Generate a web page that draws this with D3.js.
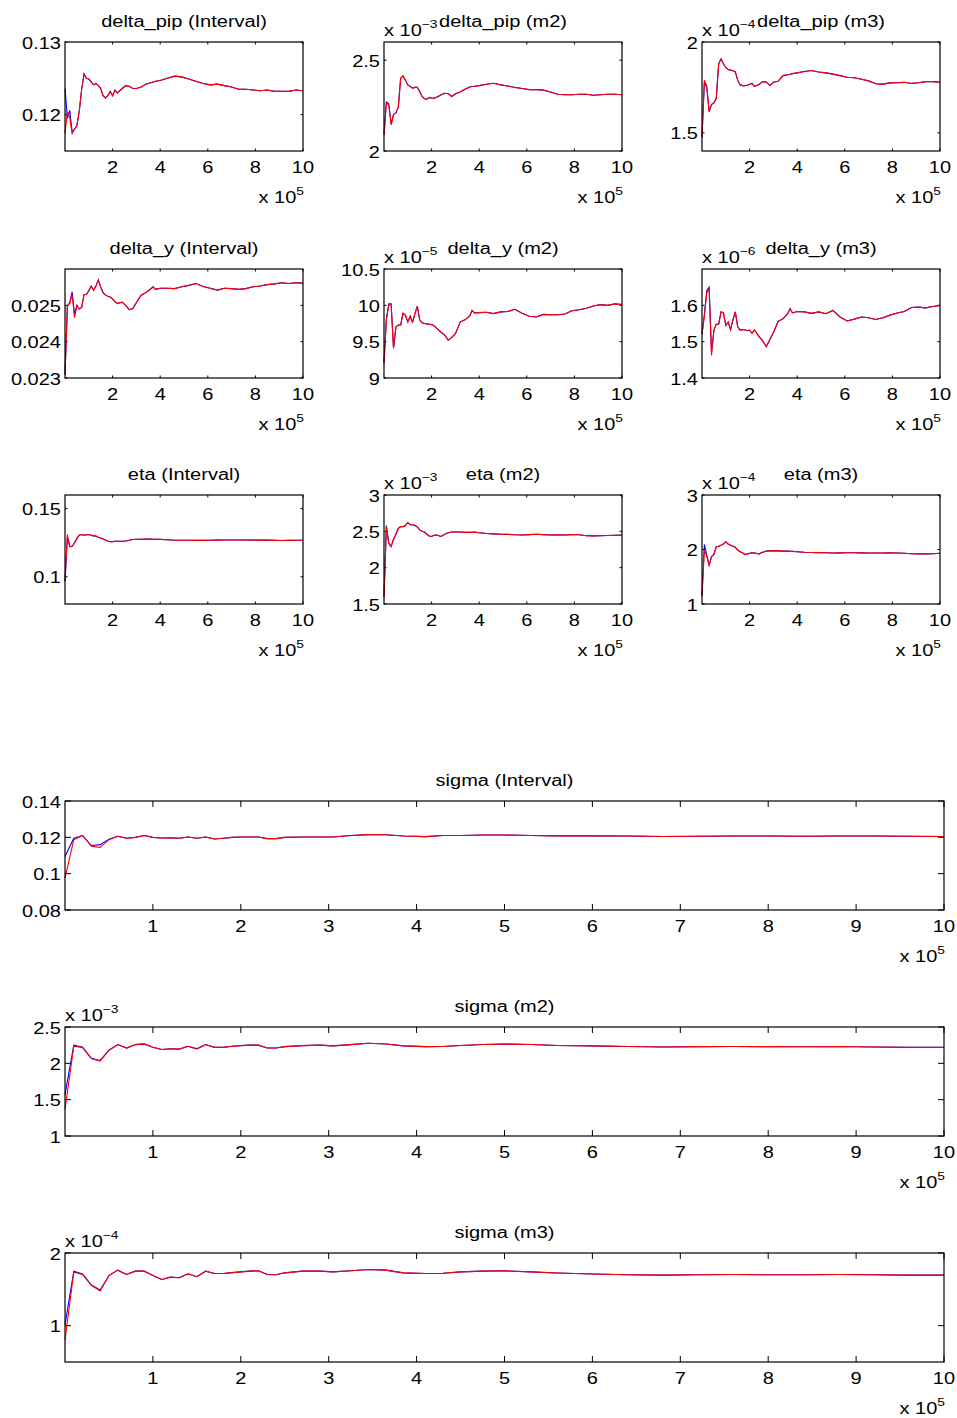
<!DOCTYPE html>
<html><head><meta charset="utf-8">
<script src="https://cdn.jsdelivr.net/npm/d3@7"></script>
<style>
body{margin:0;background:#fff}
svg{display:block}
text{font-family:"Liberation Sans",Arial,Helvetica,sans-serif;fill:#000}
</style></head>
<body><svg id="chart" width="957" height="1418"></svg>
<script>
// ---------------- DATA ----------------
// x positions (units of 10^5)
const smallX = [0,0.1,0.2,0.3,0.4,0.5,0.6,0.7,0.8,0.9,1.0,1.1,1.2,1.3,1.4,1.5,1.6,1.7,1.8,1.9,2.0,2.1,2.2,2.4,2.55,2.7,2.85,3.0,3.2,3.4,3.6,3.7,3.8,4.0,4.3,4.6,4.9,5.2,5.5,5.8,6.1,6.4,6.7,7.0,7.3,7.6,7.9,8.2,8.5,8.8,9.1,9.4,9.7,10.0];
const wideX = [0,0.1,0.2,0.3,0.4,0.5,0.6,0.7,0.8,0.9,1.0,1.1,1.2,1.3,1.4,1.5,1.6,1.7,1.8,1.9,2.0,2.1,2.2,2.3,2.4,2.5,2.7,2.9,3.05,3.25,3.45,3.65,3.85,4.1,4.3,4.5,4.75,5.0,5.3,5.6,6.0,6.4,6.8,7.2,7.6,8.0,8.4,8.8,9.2,9.6,10.0];

const smallXTicks = [2,4,6,8,10];
const wideXTicks = [1,2,3,4,5,6,7,8,9,10];

// delta_pip (Interval)
const dpipIntRed = [0.1174,0.1204,0.1196,0.1174,0.1180,0.1185,0.1205,0.1235,0.1256,0.1250,0.1249,0.1245,0.1241,0.1243,0.1240,0.1236,0.1226,0.1223,0.1226,0.1232,0.1226,0.1234,0.1230,0.1236,0.1240,0.1239,0.1236,0.1236,0.1238,0.1242,0.1244,0.1245,0.1246,0.1247,0.1250,0.1253,0.1252,0.1249,0.1246,0.1243,0.1241,0.1242,0.1240,0.1238,0.1235,0.1235,0.1234,0.1233,0.1234,0.1232,0.1232,0.1232,0.1234,0.1233];
const dpipIntBlueHead = [0.1236,0.1195,0.1206,0.1176];
const dpipIntTicks = [0.12,0.13];

// delta_pip (m2) x 10^-3
const dpipM2Red = [2.088,2.263,2.254,2.143,2.20,2.21,2.24,2.40,2.413,2.39,2.364,2.355,2.346,2.35,2.35,2.327,2.30,2.288,2.285,2.295,2.29,2.29,2.295,2.31,2.318,2.315,2.30,2.315,2.325,2.34,2.352,2.355,2.356,2.36,2.367,2.373,2.364,2.358,2.35,2.344,2.338,2.338,2.335,2.325,2.312,2.31,2.31,2.312,2.312,2.307,2.31,2.312,2.312,2.31];
const dpipM2BlueHead = [2.09,2.27,2.26,2.15];
const dpipM2Ticks = [2,2.5];

// delta_pip (m3) x 10^-4
const dpipM3Red = [1.473,1.79,1.76,1.614,1.656,1.665,1.69,1.88,1.907,1.88,1.86,1.848,1.845,1.842,1.835,1.79,1.765,1.76,1.76,1.762,1.768,1.772,1.756,1.766,1.782,1.78,1.76,1.778,1.784,1.815,1.82,1.822,1.826,1.83,1.838,1.843,1.835,1.83,1.823,1.815,1.806,1.803,1.795,1.786,1.77,1.768,1.775,1.776,1.778,1.772,1.776,1.782,1.782,1.778];
const dpipM3BlueHead = [1.48,1.78,1.75,1.62];
const dpipM3Ticks = [1.5,2];

// delta_y (Interval)
const dyIntRed = [0.02309,0.0250,0.02505,0.02530,0.02466,0.02500,0.02490,0.02494,0.02530,0.02530,0.02540,0.02553,0.02542,0.02553,0.02570,0.02550,0.02535,0.02528,0.02525,0.02523,0.02518,0.02510,0.02505,0.02509,0.02500,0.02488,0.02491,0.02508,0.02528,0.02535,0.02545,0.02551,0.02544,0.02547,0.02547,0.02546,0.02551,0.02555,0.02560,0.02552,0.02547,0.02542,0.02547,0.02546,0.02544,0.02546,0.02551,0.02553,0.02557,0.02559,0.02562,0.02560,0.02562,0.02561];
const dyIntBlueHead = [0.02309,0.02497,0.02508,0.02537,0.02475];
const dyIntTicks = [0.023,0.024,0.025];

// delta_y (m2) x 10^-5
const dyM2Red = [9.205,9.80,10.0,10.01,9.41,9.70,9.73,9.73,9.89,9.864,9.77,9.85,9.77,9.886,9.99,9.80,9.76,9.75,9.745,9.74,9.735,9.72,9.69,9.63,9.59,9.52,9.56,9.61,9.77,9.80,9.85,9.93,9.895,9.90,9.905,9.886,9.91,9.915,9.945,9.89,9.85,9.84,9.875,9.87,9.87,9.88,9.925,9.94,9.96,9.99,10.01,10.0,10.02,10.01];
const dyM2BlueHead = [9.21,9.82,10.02,10.02];
const dyM2Ticks = [9,9.5,10,10.5];

// delta_y (m3) x 10^-6
const dyM3Red = [1.522,1.57,1.635,1.645,1.462,1.532,1.548,1.548,1.582,1.580,1.545,1.554,1.533,1.56,1.582,1.541,1.532,1.533,1.533,1.530,1.532,1.523,1.532,1.514,1.502,1.486,1.505,1.525,1.556,1.563,1.577,1.591,1.579,1.583,1.582,1.578,1.582,1.577,1.586,1.568,1.557,1.562,1.568,1.566,1.561,1.566,1.573,1.579,1.583,1.594,1.595,1.593,1.597,1.600];
const dyM3BlueHead = [1.52,1.575,1.64,1.65,1.47];
const dyM3Ticks = [1.4,1.5,1.6];

// eta (Interval)
const etaIntRed = [0.0966,0.131,0.122,0.1222,0.125,0.128,0.1305,0.131,0.1305,0.1308,0.131,0.1305,0.130,0.1298,0.129,0.1285,0.1277,0.127,0.1262,0.1257,0.1258,0.126,0.126,0.126,0.1262,0.1268,0.1273,0.1274,0.1275,0.1277,0.1276,0.1275,0.1275,0.1274,0.1272,0.1268,0.1268,0.1268,0.1267,0.1267,0.1268,0.1269,0.127,0.127,0.127,0.127,0.1269,0.127,0.1269,0.1267,0.1266,0.1267,0.1268,0.1268];
const etaIntBlueHead = [0.0966,0.129,0.1225];
const etaIntTicks = [0.1,0.15];

// eta (m2) x 10^-3
const etaM2Red = [1.6,2.565,2.33,2.29,2.39,2.46,2.54,2.565,2.565,2.58,2.62,2.59,2.59,2.58,2.56,2.52,2.50,2.49,2.46,2.435,2.43,2.445,2.45,2.43,2.46,2.48,2.49,2.49,2.49,2.485,2.485,2.487,2.49,2.48,2.47,2.465,2.46,2.458,2.452,2.45,2.455,2.46,2.455,2.45,2.452,2.45,2.455,2.452,2.44,2.438,2.44,2.442,2.445,2.45];
const etaM2BlueHead = [1.6,2.58,2.34];
const etaM2Ticks = [1.5,2,2.5,3];

// eta (m3) x 10^-4
const etaM3Red = [1.15,1.98,1.88,1.71,1.87,1.91,2.05,2.06,2.08,2.1,2.14,2.10,2.08,2.06,2.04,1.99,1.96,1.94,1.91,1.915,1.93,1.94,1.935,1.92,1.95,1.97,1.975,1.98,1.975,1.97,1.97,1.968,1.965,1.96,1.95,1.945,1.942,1.94,1.935,1.938,1.94,1.94,1.938,1.937,1.935,1.937,1.94,1.935,1.93,1.922,1.92,1.92,1.922,1.93];
const etaM3BlueHead = [1.15,2.09,1.9];
const etaM3Ticks = [1,2,3];

// sigma (Interval)
const sigIntRed = [0.0975,0.1187,0.121,0.1151,0.1145,0.1187,0.1206,0.1195,0.12,0.121,0.12,0.1196,0.1197,0.1195,0.1202,0.1195,0.1202,0.1191,0.1195,0.12,0.1202,0.1202,0.1202,0.1193,0.1193,0.12,0.1202,0.1202,0.1202,0.121,0.1215,0.1214,0.1207,0.1204,0.121,0.121,0.1213,0.1213,0.121,0.1208,0.1208,0.1207,0.1205,0.1206,0.1207,0.1207,0.1206,0.1207,0.1207,0.1206,0.1205];
const sigIntBlueHead = [0.1095,0.1195,0.121,0.1155,0.116,0.119];
const sigIntTicks = [0.08,0.1,0.12,0.14];

// sigma (m2) x 10^-3
const sigM2Red = [1.367,2.235,2.22,2.066,2.03,2.18,2.258,2.21,2.258,2.267,2.22,2.19,2.2,2.196,2.235,2.2,2.258,2.22,2.22,2.235,2.244,2.25,2.25,2.21,2.21,2.23,2.244,2.25,2.24,2.258,2.276,2.267,2.24,2.23,2.232,2.245,2.26,2.265,2.26,2.245,2.24,2.232,2.225,2.23,2.232,2.23,2.228,2.232,2.225,2.22,2.22];
const sigM2BlueHead = [1.57,2.25,2.22,2.07,2.04];
const sigM2Ticks = [1,1.5,2,2.5];

// sigma (m3) x 10^-4
const sigM3Red = [0.8,1.736,1.705,1.555,1.477,1.69,1.764,1.705,1.75,1.75,1.69,1.636,1.668,1.66,1.714,1.673,1.75,1.718,1.718,1.73,1.74,1.75,1.755,1.705,1.70,1.727,1.75,1.75,1.74,1.755,1.773,1.764,1.727,1.718,1.722,1.74,1.75,1.755,1.74,1.725,1.71,1.70,1.695,1.70,1.705,1.70,1.70,1.705,1.70,1.695,1.695];
const sigM3BlueHead = [1.01,1.75,1.71,1.56,1.49];
const sigM3Ticks = [1,2];

// ---------------- LAYOUT ----------------
const SX = 1.25;          // horizontal stretch of the reference text
const FS = 16;            // font size
const colLeft = [65, 384, 702];
const rowTop = [42, 269, 495];
const smallW = 238, H = 109;
const wideLeft = 65, wideW = 879, wideTop = [801, 1027, 1253];

const panels = [
  {title:"delta_pip (Interval)", red:dpipIntRed, blue:dpipIntBlueHead, dom:[0.115,0.13], ticks:dpipIntTicks, exp:null, c:0, r:0},
  {title:"delta_pip (m2)", red:dpipM2Red, blue:dpipM2BlueHead, dom:[2,2.6], ticks:dpipM2Ticks, exp:"−3", c:1, r:0},
  {title:"delta_pip (m3)", red:dpipM3Red, blue:dpipM3BlueHead, dom:[1.4,2], ticks:dpipM3Ticks, exp:"−4", c:2, r:0},
  {title:"delta_y (Interval)", red:dyIntRed, blue:dyIntBlueHead, dom:[0.023,0.026], ticks:dyIntTicks, exp:null, c:0, r:1},
  {title:"delta_y (m2)", red:dyM2Red, blue:dyM2BlueHead, dom:[9,10.5], ticks:dyM2Ticks, exp:"−5", c:1, r:1},
  {title:"delta_y (m3)", red:dyM3Red, blue:dyM3BlueHead, dom:[1.4,1.7], ticks:dyM3Ticks, exp:"−6", c:2, r:1},
  {title:"eta (Interval)", red:etaIntRed, blue:etaIntBlueHead, dom:[0.08,0.16], ticks:etaIntTicks, exp:null, c:0, r:2},
  {title:"eta (m2)", red:etaM2Red, blue:etaM2BlueHead, dom:[1.5,3], ticks:etaM2Ticks, exp:"−3", c:1, r:2},
  {title:"eta (m3)", red:etaM3Red, blue:etaM3BlueHead, dom:[1,3], ticks:etaM3Ticks, exp:"−4", c:2, r:2}
].map(p => Object.assign(p, {x:smallX, xt:smallXTicks, left:colLeft[p.c], top:rowTop[p.r], w:smallW, tl:2.5}));

const widePanels = [
  {title:"sigma (Interval)", red:sigIntRed, blue:sigIntBlueHead, dom:[0.08,0.14], ticks:sigIntTicks, exp:null, r:0},
  {title:"sigma (m2)", red:sigM2Red, blue:sigM2BlueHead, dom:[1,2.5], ticks:sigM2Ticks, exp:"−3", r:1},
  {title:"sigma (m3)", red:sigM3Red, blue:sigM3BlueHead, dom:[0.5,2], ticks:sigM3Ticks, exp:"−4", r:2}
].map(p => Object.assign(p, {x:wideX, xt:wideXTicks, left:wideLeft, top:wideTop[p.r], w:wideW, tl:6}));

// ---------------- DRAW ----------------
const svg = d3.select("#chart");

function txt(g, x, y, s, size, anchor) {
  return g.append("text")
    .attr("transform", `translate(${x},${y}) scale(${SX},1)`)
    .attr("font-size", size)
    .attr("text-anchor", anchor)
    .text(s);
}
function expText(g, x, y, sup, anchor) {
  const t = g.append("text")
    .attr("transform", `translate(${x},${y}) scale(${SX},1)`)
    .attr("font-size", FS)
    .attr("text-anchor", anchor);
  t.append("tspan").text("x 10");
  t.append("tspan").attr("dy", -8).attr("font-size", 11).text(sup);
  return t;
}

function drawPanel(p) {
  const g = svg.append("g");
  const x = d3.scaleLinear().domain([0,10]).range([p.left, p.left + p.w]);
  const y = d3.scaleLinear().domain(p.dom).range([p.top + H, p.top]);
  const bottom = p.top + H, right = p.left + p.w;

  // ticks (inward, on all four sides)
  p.xt.forEach(v => {
    const xx = x(v);
    g.append("line").attr("x1",xx).attr("x2",xx).attr("y1",bottom).attr("y2",bottom-p.tl).attr("stroke","#000").attr("stroke-width",1);
    g.append("line").attr("x1",xx).attr("x2",xx).attr("y1",p.top).attr("y2",p.top+p.tl).attr("stroke","#000").attr("stroke-width",1);
    txt(g, xx, bottom + 22, String(v), FS, "middle");
  });
  p.ticks.forEach(v => {
    const yy = y(v);
    g.append("line").attr("x1",p.left).attr("x2",p.left+p.tl).attr("y1",yy).attr("y2",yy).attr("stroke","#000").attr("stroke-width",1);
    g.append("line").attr("x1",right).attr("x2",right-p.tl).attr("y1",yy).attr("y2",yy).attr("stroke","#000").attr("stroke-width",1);
    txt(g, p.left - 4, yy + 6.5, String(v), FS, "end");
  });

  // lines: blue underneath, red on top
  const line = d3.line().x((d,i) => x(p.x[i])).y(d => y(d));
  const blueSeries = p.blue.concat(p.red.slice(p.blue.length));
  g.append("path").datum(blueSeries).attr("d", line).attr("fill","none").attr("stroke","#0000ff").attr("stroke-width",1.1);
  g.append("path").datum(p.red).attr("d", line).attr("fill","none").attr("stroke","#ff0000").attr("stroke-width",1.1);

  // box
  g.append("rect").attr("x",p.left).attr("y",p.top).attr("width",p.w).attr("height",H)
    .attr("fill","none").attr("stroke","#000").attr("stroke-width",1.2);

  // title
  txt(g, p.left + p.w/2, p.top - 15, p.title, FS, "middle");
  // exponent labels
  if (p.exp) expText(g, p.left, p.top - 6, p.exp, "start");
  expText(g, right + 1, bottom + 52, "5", "end");
}

panels.forEach(drawPanel);
widePanels.forEach(drawPanel);
</script>
</body></html>
